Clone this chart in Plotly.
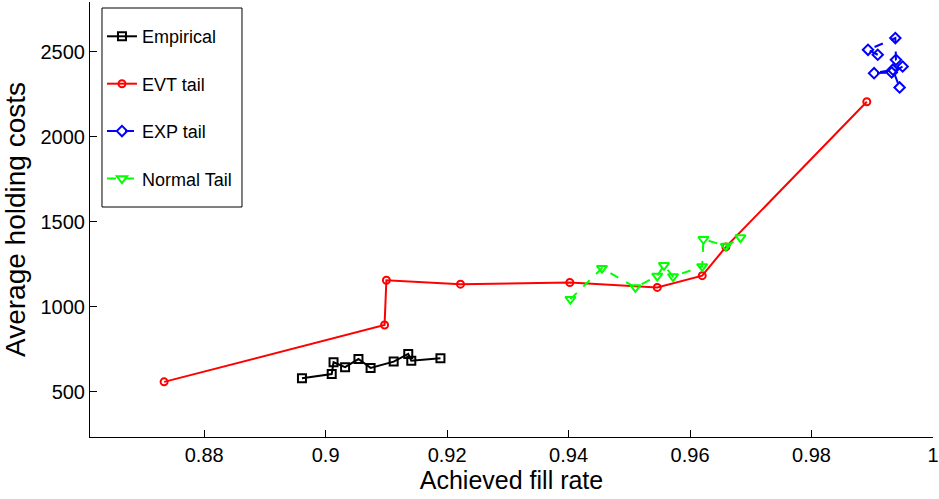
import plotly.graph_objects as go

# Empirical
emp_x = [0.8961, 0.9010, 0.9013, 0.9032, 0.9054, 0.9074, 0.9112, 0.9136, 0.9141, 0.9189]
emp_y = [580, 605, 674, 645, 693, 641, 678, 723, 683, 698]

# EVT tail
evt_x = [0.8734, 0.9097, 0.9100, 0.9222, 0.9402, 0.9546, 0.9620, 0.9659, 0.9891]
evt_y = [559, 893, 1156, 1133, 1143, 1114, 1183, 1352, 2205]

# EXP tail
exp_x = [0.9909, 0.9893, 0.9938, 0.9939, 0.9950, 0.9932, 0.9903, 0.9934, 0.9945]
exp_y = [2481, 2510, 2579, 2451, 2412, 2377, 2373, 2393, 2289]

# Normal tail
nor_x = [0.9403, 0.9455, 0.9510, 0.9546, 0.9557, 0.9572, 0.9620, 0.9622, 0.9659, 0.9683]
nor_y = [1045, 1227, 1114, 1181, 1244, 1178, 1237, 1397, 1357, 1407]

x_ticks = [0.88, 0.9, 0.92, 0.94, 0.96, 0.98, 1]
x_tick_labels = ["0.88", "0.9", "0.92", "0.94", "0.96", "0.98", "1"]
y_ticks = [500, 1000, 1500, 2000, 2500]

fig = go.Figure()
fig.add_trace(go.Scatter(x=emp_x, y=emp_y, mode="lines+markers", name="Empirical",
                         legendgroup="a",
                         line=dict(color="black", width=2),
                         marker=dict(symbol="square-open", size=8, color="black",
                                     line=dict(width=2, color="black"))))
fig.add_trace(go.Scatter(x=evt_x, y=evt_y, mode="lines+markers", name="EVT tail",
                         legendgroup="b",
                         line=dict(color="#ff0000", width=2),
                         marker=dict(symbol="circle-open", size=7, color="#ff0000",
                                     line=dict(width=2, color="#ff0000"))))
fig.add_trace(go.Scatter(x=exp_x, y=exp_y, mode="lines+markers", name="EXP tail",
                         legendgroup="c",
                         line=dict(color="#0000ff", width=2, dash="dash"),
                         marker=dict(symbol="diamond-open", size=8, color="#0000ff",
                                     line=dict(width=2, color="#0000ff"))))
fig.add_trace(go.Scatter(x=nor_x, y=nor_y, mode="lines+markers", name="Normal Tail",
                         legendgroup="d",
                         line=dict(color="#00ff00", width=2, dash="dash"),
                         marker=dict(symbol="triangle-down-open", size=9, color="#00ff00",
                                     line=dict(width=2, color="#00ff00"))))

axis_common = dict(showline=True, linecolor="black", linewidth=1, showgrid=False,
                   zeroline=False, ticks="inside", ticklen=7, tickcolor="black",
                   mirror=False, automargin=False)

fig.update_layout(
    width=939, height=499,
    margin=dict(l=90, r=6, t=2, b=62),
    paper_bgcolor="white", plot_bgcolor="white",
    font=dict(family="Liberation Sans, Arial, sans-serif", color="black"),
    xaxis=dict(range=[0.8612, 1.0], tickvals=x_ticks, ticktext=x_tick_labels,
               tickfont=dict(size=20),
               title=dict(text="Achieved fill rate", font=dict(size=25), standoff=6),
               **axis_common),
    yaxis=dict(range=[235, 2791], tickvals=y_ticks,
               tickfont=dict(size=20),
               title=dict(text="Average holding costs", font=dict(size=28), standoff=12),
               **axis_common),
    legend=dict(x=0.0142, y=0.963, xanchor="left", yanchor="top",
                borderwidth=0, bgcolor="rgba(0,0,0,0)",
                font=dict(size=18), itemwidth=30, tracegroupgap=21),
    shapes=[dict(type="rect", xref="paper", yref="paper",
                 x0=0.01423, x1=0.1803, y0=0.5287, y1=0.9862,
                 line=dict(color="black", width=1), fillcolor="white", layer="above")],
    showlegend=True,
)

fig.write_html("out.html", config={"displayModeBar": False},
               post_script="document.body.style.margin='0';document.body.style.overflow='hidden';")
